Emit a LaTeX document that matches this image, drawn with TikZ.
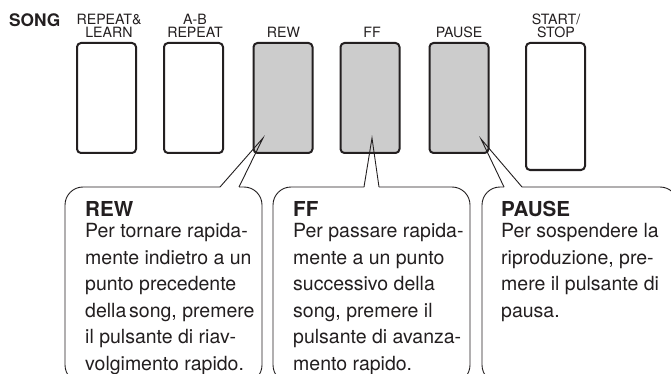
\documentclass[tikz,border=0pt]{standalone}
\usepackage{fontspec}
\setmainfont{TeX Gyre Heros}
\definecolor{ink}{HTML}{231F20}
\definecolor{btngray}{HTML}{CCCCCC}
\begin{document}
\begin{tikzpicture}[x=1pt,y=-1pt,
  btn/.style={draw=ink, line width=2pt, rounded corners=4pt, minimum width=59pt, inner sep=0pt},
  lbl/.style={anchor=base, inner sep=0pt, text=ink, text height=10.2pt, text depth=0pt, font=\fontsize{14.2}{14.2}\selectfont},
  ttl/.style={anchor=base west, inner sep=0pt, text=ink, font=\fontsize{20.6}{20.6}\selectfont\bfseries},
  body/.style={anchor=base west, inner sep=0pt, text=ink, font=\fontsize{19.5}{19.5}\selectfont},
  callout/.style={draw=ink, line width=0.9pt, rounded corners=18pt},
  pointer/.style={draw=ink, line width=0.9pt, line join=miter}]
\useasboundingbox (0,0) rectangle (671,374);
\clip (0,0) rectangle (671,374);
\fill[white] (0,0) rectangle (671,374);

% SONG label
\node[anchor=base west, inner sep=0pt, text=ink, font=\fontsize{17.3}{17.3}\selectfont\bfseries] (song) at (9,27) {SONG};

% buttons
\node[btn, minimum height=110pt] (b1) at (106.5,98) {};
\node[btn, minimum height=110pt] (b2) at (193.5,98) {};
\node[btn, minimum height=110pt, fill=btngray] (b3) at (283,98) {};
\node[btn, minimum height=110pt, fill=btngray] (b4) at (370,98) {};
\node[btn, minimum height=110pt, fill=btngray] (b5) at (459,98) {};
\node[btn, minimum height=127pt] (b6) at (555.5,106.5) {};

% button labels
\node[lbl] (l1a) at (109,24.5) {REPEAT\&};
\node[lbl] (l1b) at (109,38) {LEARN};
\node[lbl] (l2a) at (195,24.5) {A-B};
\node[lbl] (l2b) at (195,38) {REPEAT};
\node[lbl] (l3) at (283.5,38) {REW};
\node[lbl] (l4) at (372,38) {FF};
\node[lbl] (l5) at (459,38) {PAUSE};
\node[lbl] (l6a) at (556,24.3) {START/};
\node[lbl] (l6b) at (556,37.7) {STOP};

% pointer tips
\coordinate (t3) at (263,138);
\coordinate (t4) at (372,138);
\coordinate (t5) at (481,139);

% callout REW
\coordinate (c1l) at (220,187);
\coordinate (c1r) at (239,187);
\draw[callout] (c1l) -- (65,187) -- (65,383) -- (262,383) -- (262,187) -- (c1r);
\draw[pointer] (c1l) -- (t3) -- (c1r);

% callout FF
\coordinate (c2l) at (364,187);
\coordinate (c2r) at (379,187);
\draw[callout] (c2l) -- (273,187) -- (273,383) -- (470,383) -- (470,187) -- (c2r);
\draw[pointer] (c2l) -- (t4) -- (c2r);

% callout PAUSE
\coordinate (c3l) at (504,187);
\coordinate (c3r) at (522,187);
\draw[callout] (c3l) -- (482,187) -- (482,383) -- (678,383) -- (678,187) -- (c3r);
\draw[pointer] (c3l) -- (t5) -- (c3r);

% texts
\node[ttl] (rewt) at (85,216.7) {REW};
\foreach \t [count=\i] in {{Per tornare rapida-},{mente indietro a un},{punto precedente},{della\hspace{2.8pt}song, premere},{il pulsante di riav-},{volgimento rapido.}}
  \node[body, name=rew\i] at (85,237.7+26.5*\i-26.5) {\t};

\node[ttl] (fft) at (293,216.7) {FF};
\foreach \t [count=\i] in {{Per passare rapida-},{mente a un punto},{successivo della},{song, premere il},{pulsante di avanza-},{mento rapido.}}
  \node[body, name=ff\i] at (293,237.7+26.5*\i-26.5) {\t};

\node[ttl] (pat) at (501,216.7) {PAUSE};
\foreach \t [count=\i] in {{Per sospendere la},{riproduzione, pre-},{mere il pulsante di},{pausa.}}
  \node[body, name=pa\i] at (501,237.7+26.5*\i-26.5) {\t};
\end{tikzpicture}
\end{document}
